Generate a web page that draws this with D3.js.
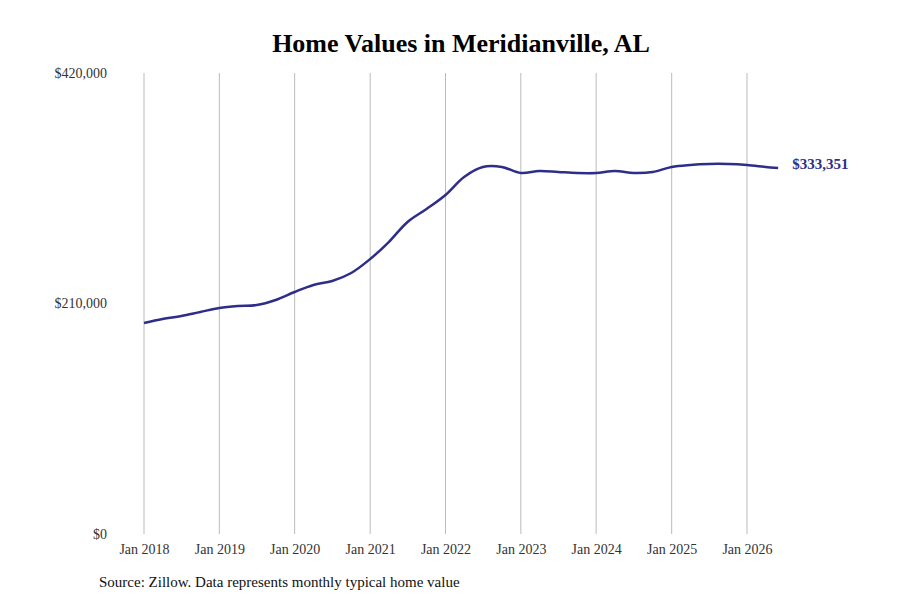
<!DOCTYPE html>
<html><head><meta charset="utf-8">
<script src="https://cdn.jsdelivr.net/npm/d3@7"></script>
<style>body{margin:0;background:#fff}</style>
</head><body>
<script>
const dates = ["2018-01","2018-04","2018-07","2018-10","2019-01","2019-04","2019-07","2019-10",
  "2020-01","2020-04","2020-07","2020-10","2021-01","2021-04","2021-07","2021-10",
  "2022-01","2022-04","2022-07","2022-10","2023-01","2023-04","2023-07","2023-10",
  "2024-01","2024-04","2024-07","2024-10","2025-01","2025-04","2025-07","2025-10",
  "2026-01","2026-04","2026-06"];
const values = [192200,195900,198600,202300,205900,207700,208600,213200,
  220500,226900,230500,237800,250500,266000,284300,296100,
  308900,325300,334400,334400,328900,330700,329800,328900,
  328900,330700,328900,329800,334400,336200,337100,337100,
  336200,334400,333351];
const yTicks = [0,210000,420000];
const xTickYears = [2018,2019,2020,2021,2022,2023,2024,2025,2026];

const FONT = "Liberation Serif, serif";
const parse = d3.timeParse("%Y-%m");
const data = dates.map((d,i)=>({date:parse(d),value:values[i]}));
const W=900,H=600;
const svg = d3.select("body").append("svg").attr("width",W).attr("height",H)
  .style("font-family",FONT);
const x = d3.scaleTime().domain([parse("2018-01"),parse("2026-01")]).range([144,747]);
const y = d3.scaleLinear().domain([0,420000]).range([534,73]);

svg.append("text").attr("x",461).attr("y",52).attr("text-anchor","middle")
  .attr("font-size",26).attr("font-weight","bold").text("Home Values in Meridianville, AL");

const xt = xTickYears.map(yr=>new Date(yr,0,1));
svg.selectAll(".grid").data(xt).enter().append("line")
  .attr("x1",d=>x(d)).attr("x2",d=>x(d)).attr("y1",73).attr("y2",534)
  .attr("stroke","#bbb").attr("stroke-width",1);

const xa = svg.append("g").attr("transform","translate(0,534)")
  .call(d3.axisBottom(x).tickValues(xt).tickFormat(d3.timeFormat("Jan %Y")).tickSize(0).tickPadding(10));
xa.select(".domain").remove();
xa.selectAll("text").attr("font-size",14).attr("fill","#333").style("font-family",FONT);

const ya = svg.append("g").attr("transform","translate(107,0)")
  .call(d3.axisLeft(y).tickValues(yTicks).tickFormat(d=>"$"+d3.format(",")(d)).tickSize(0).tickPadding(0));
ya.select(".domain").remove();
ya.selectAll("text").attr("font-size",14).attr("fill","#333").style("font-family",FONT);

svg.append("path").datum(data)
  .attr("d",d3.line().x(d=>x(d.date)).y(d=>y(d.value)).curve(d3.curveCatmullRom))
  .attr("fill","none").attr("stroke","#2e2e8a").attr("stroke-width",2.5);

const last = data[data.length-1];
svg.append("text").attr("x",x(last.date)+14).attr("y",y(last.value)-4).attr("dy","0.35em")
  .attr("font-size",15).attr("font-weight","bold").attr("fill","#2e2e8a")
  .text("$"+d3.format(",")(last.value));

svg.append("text").attr("x",99).attr("y",587).attr("font-size",15).attr("fill","#111")
  .text("Source: Zillow. Data represents monthly typical home value");
</script>
</body></html>
